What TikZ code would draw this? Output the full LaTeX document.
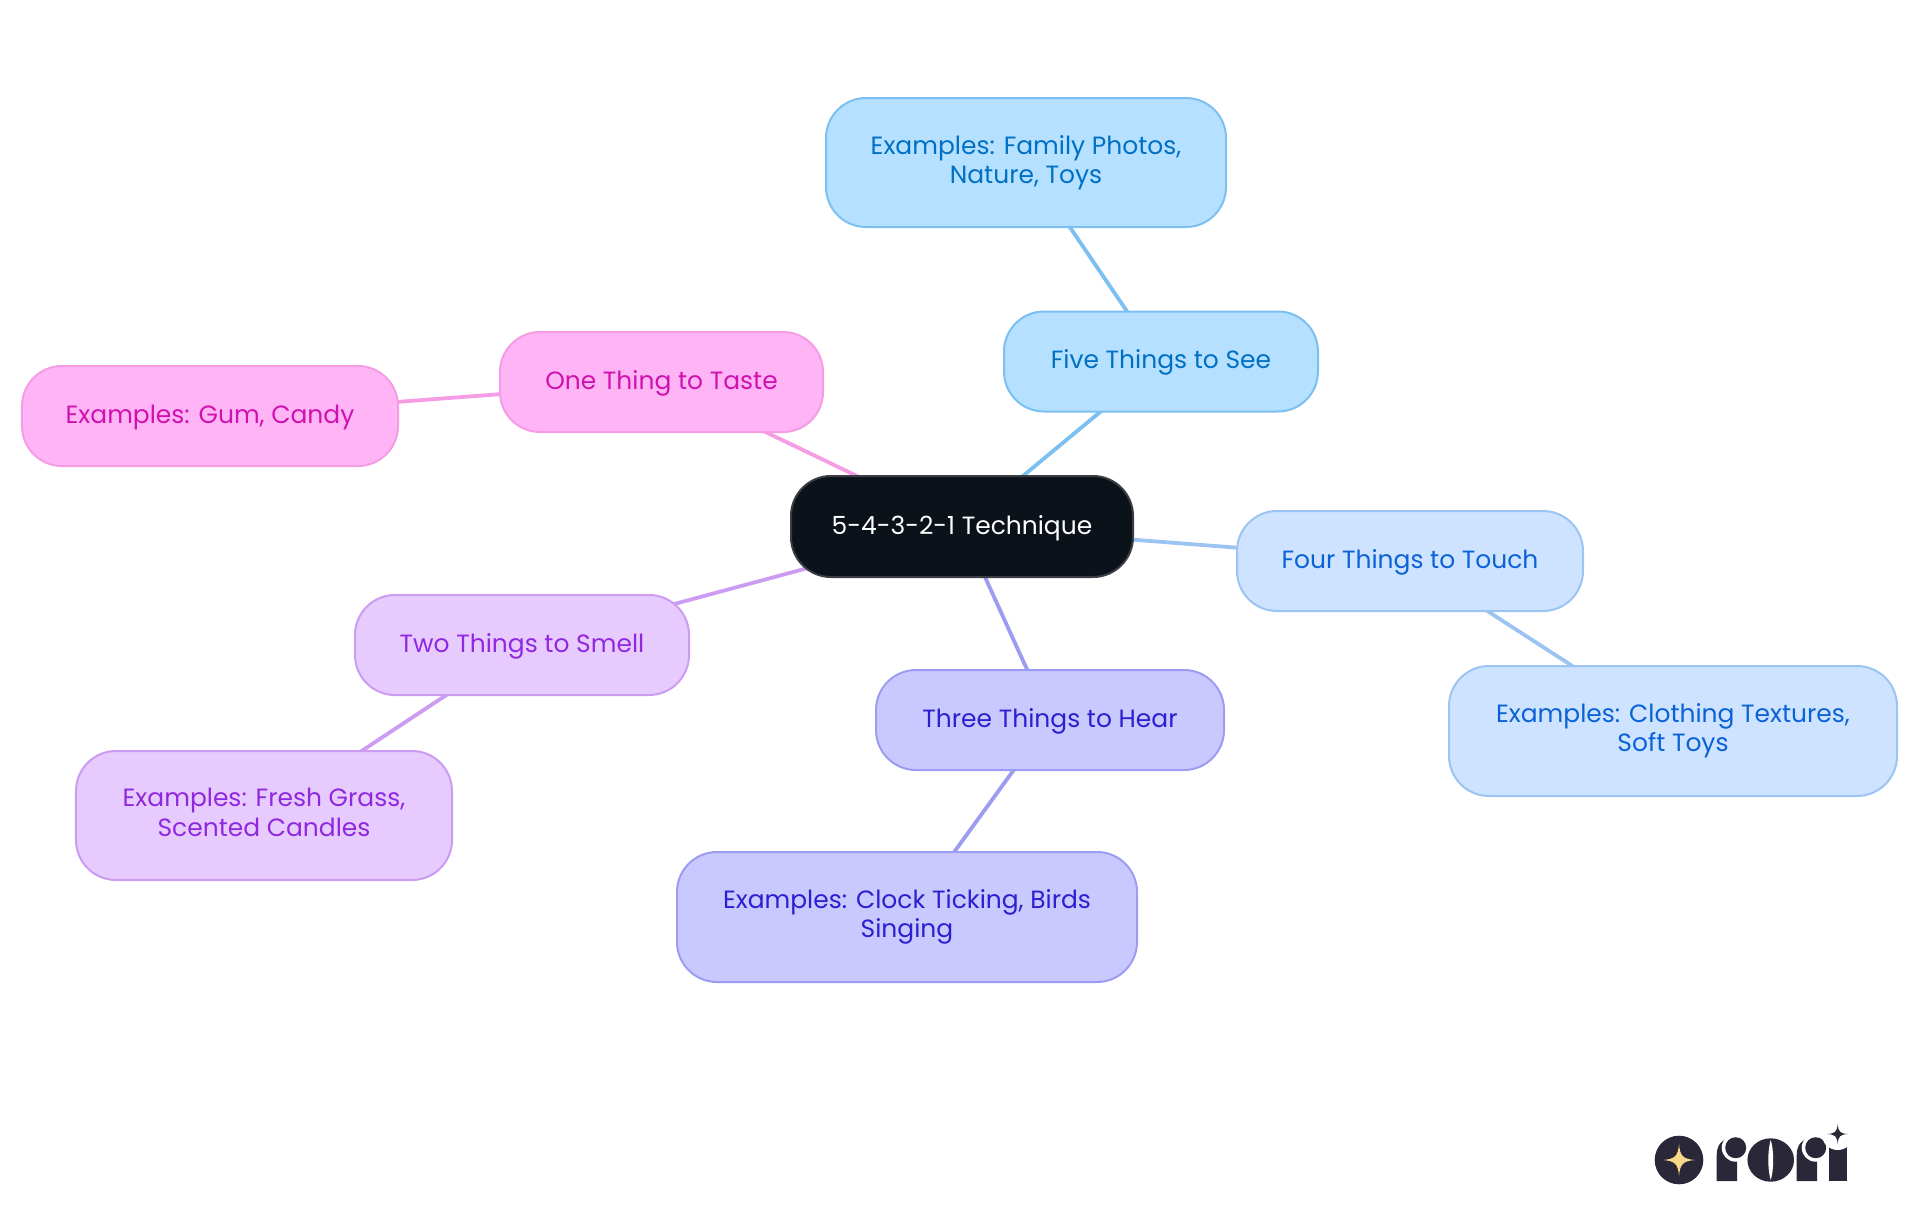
\documentclass[tikz,border=0pt]{standalone}
\usetikzlibrary{backgrounds, shapes.geometric}
\usepackage{fontspec}
\usepackage{xcolor}
\setmainfont{Poppins}
\definecolor{rootfill}{HTML}{0C121A}
\definecolor{rootline}{HTML}{3A3E44}
\definecolor{seefill}{HTML}{B5E0FF}
\definecolor{seeline}{HTML}{7CC0F2}
\definecolor{seetext}{HTML}{0070C4}
\definecolor{touchfill}{HTML}{CDE3FF}
\definecolor{touchline}{HTML}{9CC4F2}
\definecolor{touchtext}{HTML}{0B62D6}
\definecolor{hearfill}{HTML}{C9C9FF}
\definecolor{hearline}{HTML}{9C9CF2}
\definecolor{heartext}{HTML}{2B1FD0}
\definecolor{smellfill}{HTML}{E7CBFF}
\definecolor{smellline}{HTML}{CC9CF2}
\definecolor{smelltext}{HTML}{9028E0}
\definecolor{tastefill}{HTML}{FFB5F5}
\definecolor{tasteline}{HTML}{F59CE5}
\definecolor{tastetext}{HTML}{D011B0}
\definecolor{logodark}{HTML}{2A2838}
\definecolor{logostar}{HTML}{F9D88A}

\begin{document}
\begin{tikzpicture}[x=0.5mm,y=-0.5mm]
    \tikzstyle{topic}=[rectangle,rounded corners=20mm,inner sep=0pt,line width=1mm,align=center,font=\fontsize{35.5pt}{41.8pt}\selectfont,execute at begin node={\rule{0pt}{30.7pt}},execute at end node={\rule[-8.7pt]{0pt}{8.7pt}}]
    \tikzstyle{two lines}=[execute at begin node={\rule{0pt}{34pt}}]
    \tikzstyle{root topic}=[topic,fill=rootfill,draw=rootline,text=white]
    \tikzstyle{see topic}=[topic,fill=seefill,draw=seeline,text=seetext]
    \tikzstyle{touch topic}=[topic,fill=touchfill,draw=touchline,text=touchtext]
    \tikzstyle{hear topic}=[topic,fill=hearfill,draw=hearline,text=heartext]
    \tikzstyle{smell topic}=[topic,fill=smellfill,draw=smellline,text=smelltext]
    \tikzstyle{taste topic}=[topic,fill=tastefill,draw=tasteline,text=tastetext]
    \tikzstyle{branch}=[line width=1.9mm]
    \tikzstyle{logo}=[fill=logodark,draw=none]

    \useasboundingbox (0,0) rectangle (1920,1215);

    \node[root topic,minimum width=171mm,minimum height=50.5mm] (root) at (962,526.5) {5-4-3-2-1 Technique};

    \node[see topic,minimum width=157mm,minimum height=50mm] (see) at (1161,361.5) {Five Things to See};
    \node[see topic,two lines,minimum width=200mm,minimum height=64.5mm] (see-ex) at (1026,162.5) {Examples: Family Photos,\\Nature, Toys};

    \node[touch topic,minimum width=173mm,minimum height=50mm] (touch) at (1410,561) {Four Things to Touch};
    \node[touch topic,two lines,minimum width=224mm,minimum height=65mm] (touch-ex) at (1673,731) {Examples: Clothing Textures,\\Soft Toys};

    \node[hear topic,minimum width=174mm,minimum height=50mm] (hear) at (1050,720) {Three Things to Hear};
    \node[hear topic,two lines,minimum width=230mm,minimum height=65mm] (hear-ex) at (907,917) {Examples: Clock Ticking, Birds\\Singing};

    \node[smell topic,minimum width=167mm,minimum height=50mm] (smell) at (522,645) {Two Things to Smell};
    \node[smell topic,two lines,minimum width=188mm,minimum height=64.5mm] (smell-ex) at (264,815.5) {Examples: Fresh Grass,\\Scented Candles};

    \node[taste topic,minimum width=161.5mm,minimum height=50mm] (taste) at (661.5,382) {One Thing to Taste};
    \node[taste topic,minimum width=188mm,minimum height=50mm] (taste-ex) at (210,416) {Examples: Gum, Candy};

    \begin{scope}[on background layer]
        \path[branch,draw=seeline] (root.center) edge (see.center) (see.center) edge (see-ex.center);
        \path[branch,draw=touchline] (root.center) edge (touch.center) (touch.center) edge (touch-ex.center);
        \path[branch,draw=hearline] (root.center) edge (hear.center) (hear.center) edge (hear-ex.center);
        \path[branch,draw=smellline] (root.center) edge (smell.center) (smell.center) edge (smell-ex.center);
        \path[branch,draw=tasteline] (root.center) edge (taste.center) (taste.center) edge (taste-ex.center);
    \end{scope}

    % logo
    \fill[logo] (1679,1160) circle (24.3);
    \fill[logostar] (1663,1160) .. controls (1675,1159) and (1678,1156) .. (1679,1144)
        .. controls (1680,1156) and (1683,1159) .. (1695,1160)
        .. controls (1683,1161) and (1680,1164) .. (1679,1176)
        .. controls (1678,1164) and (1675,1161) .. (1663,1160) -- cycle;
    \foreach \x in {0,80}{
        \fill[logo] (1716.7+\x,1181) -- (1716.7+\x,1155) .. controls (1716.7+\x,1145) and (1722+\x,1139) .. (1730+\x,1138)
            -- (1737+\x,1138) -- (1737+\x,1181) -- cycle;
        \fill[white] (1735.7+\x,1147.7) circle (14);
        \fill[logo] (1735.7+\x,1147.7) circle (10.5);
    }
    \fill[logo] (1770.7,1160) ellipse (23.3 and 21.7);
    \fill[white] (1770.7,1140) .. controls (1767.5,1150) and (1767.5,1170) .. (1770.7,1180)
        .. controls (1774,1170) and (1774,1150) .. (1770.7,1140) -- cycle;
    \fill[logo] (1829,1181) rectangle (1846.7,1138);
    \fill[white] (1837.7,1134) circle (16);
    \fill[logo] (1827,1134) .. controls (1835,1133.5) and (1837,1132) .. (1837.7,1124)
        .. controls (1838.4,1132) and (1840,1133.5) .. (1848,1134)
        .. controls (1840,1134.5) and (1838.4,1136) .. (1837.7,1144)
        .. controls (1837,1136) and (1835,1134.5) .. (1827,1134) -- cycle;
\end{tikzpicture}
\end{document}
